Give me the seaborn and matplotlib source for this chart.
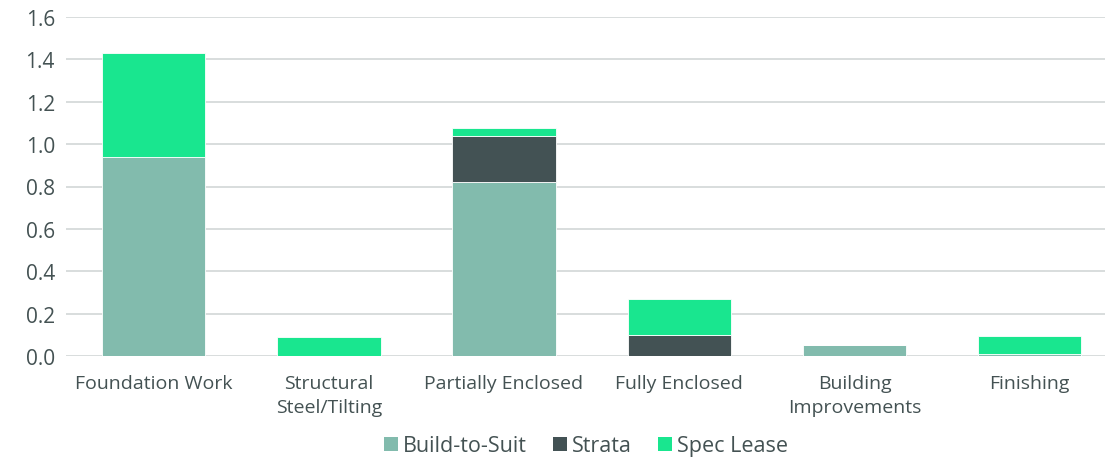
import matplotlib
matplotlib.use("Agg")
import matplotlib.pyplot as plt
import seaborn as sns
import pandas as pd
from matplotlib.patches import Patch

categories = ["Foundation Work", "Structural\nSteel/Tilting", "Partially Enclosed",
              "Fully Enclosed", "Building\nImprovements", "Finishing"]
build_to_suit = [0.94, 0.0, 0.82, 0.0, 0.05, 0.01]
strata = [0.0, 0.0, 0.22, 0.10, 0.0, 0.0]
spec_lease = [0.49, 0.09, 0.035, 0.17, 0.0, 0.085]
series_names = ["Build-to-Suit", "Strata", "Spec Lease"]
colors = ["#82BBAD", "#435254", "#19E68F"]
yticks = [0.0, 0.2, 0.4, 0.6, 0.8, 1.0, 1.2, 1.4, 1.6]

sns.set_theme(style="white")
plt.rcParams['font.family'] = ['Open Sans', 'DejaVu Sans']
text_color = "#445253"

df = pd.DataFrame({"cat": categories, "bts": build_to_suit, "strata": strata, "spec": spec_lease})
bottom2 = [a + b for a, b in zip(build_to_suit, strata)]

fig = plt.figure(figsize=(11.07, 4.6), dpi=100)
ax = fig.add_axes([66 / 1107, 1 - 357 / 460, (1105 - 66) / 1107, (357 - 18) / 460])

sns.barplot(data=df, x="cat", y="bts", color=colors[0], width=0.59, ax=ax,
            edgecolor="white", linewidth=0.6, saturation=1)
sns.barplot(data=df, x="cat", y="strata", color=colors[1], width=0.59, ax=ax,
            bottom=build_to_suit, edgecolor="white", linewidth=0.6, saturation=1)
sns.barplot(data=df, x="cat", y="spec", color=colors[2], width=0.59, ax=ax,
            bottom=bottom2, edgecolor="white", linewidth=0.6, saturation=1)

ax.set_xlim(-0.5, 5.43)
ax.set_ylim(0, 1.6)
ax.set_yticks(yticks)
ax.set_yticklabels([f"{v:.1f}" for v in yticks])
ax.yaxis.grid(True, color="#D5DADA", linewidth=1.3)
ax.set_axisbelow(True)
for s in ax.spines.values():
    s.set_visible(False)
ax.set_xlabel("")
ax.set_ylabel("")
ax.tick_params(axis="both", length=0, labelcolor=text_color)
ax.tick_params(axis="x", labelsize=14, pad=13)
ax.tick_params(axis="y", labelsize=15, pad=8)
for lbl in ax.get_xticklabels():
    lbl.set_linespacing(1.45)

handles = [Patch(facecolor=c, edgecolor="none", label=n) for c, n in zip(colors, series_names)]
fig.legend(handles=handles, loc="center", bbox_to_anchor=(586 / 1107, 1 - 447 / 460), ncol=3,
           frameon=False, fontsize=15.5, labelcolor=text_color, handlelength=0.65,
           handleheight=0.65, handletextpad=0.25, columnspacing=1.2)

fig.savefig("out.png", dpi=100)
